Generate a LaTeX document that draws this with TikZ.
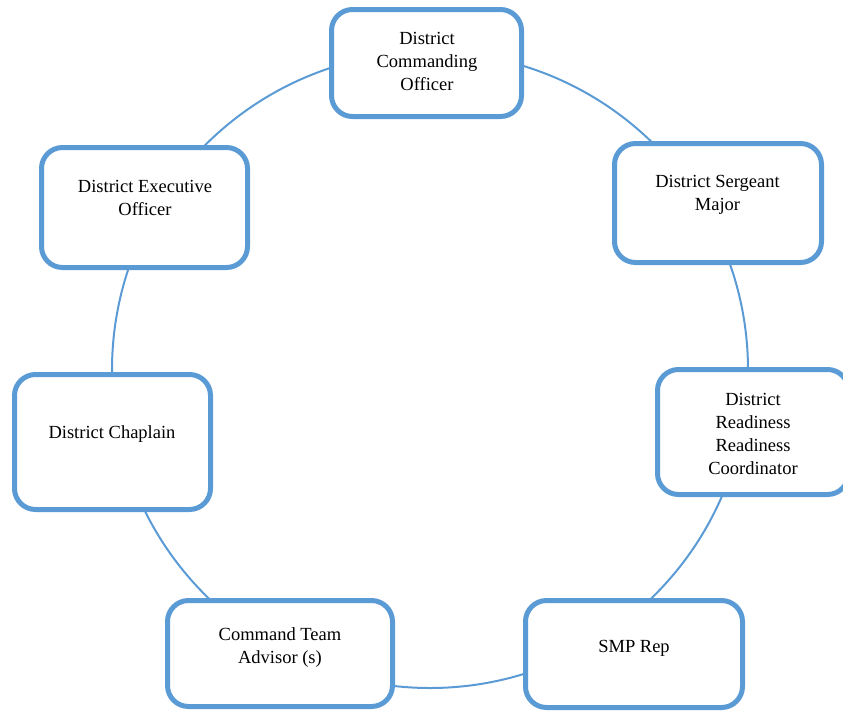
\documentclass[tikz,border=0pt]{standalone}
\usepackage{fontspec}
\setmainfont{Liberation Serif}
\usepackage{tikz}
\definecolor{ringblue}{HTML}{5B9BD5}

\tikzset{
  ring/.style={circle, draw=ringblue, line width=2pt, inner sep=0pt},
  post/.style={draw=ringblue, line width=5pt, fill=white, rounded corners=21pt, inner sep=0pt},
  posttext/.style={align=center, anchor=base, inner sep=0pt, font=\fontsize{18.5}{23}\selectfont}
}

\begin{document}
\begin{tikzpicture}[x=1pt,y=-1pt]
\useasboundingbox (0,0) rectangle (843,713);
\node[ring, minimum size=636pt] (ring) at (430,370) {};
% the seven posts round the ring
\node[post, minimum width=190pt, minimum height=107pt] (dco) at (426.5,63) {};
\node[post, minimum width=207pt, minimum height=119pt] (dsm) at (718,203) {};
\node[post, minimum width=191pt, minimum height=125pt] (drc) at (753,432) {};
\node[post, minimum width=217pt, minimum height=107pt] (smp) at (634,654) {};
\node[post, minimum width=225pt, minimum height=106pt] (cta) at (280,653.5) {};
\node[post, minimum width=196pt, minimum height=135pt] (dch) at (112.5,442) {};
\node[post, minimum width=206pt, minimum height=120pt] (dxo) at (144.5,207.5) {};
% their titles (base = last line)
\node[posttext] (dco-t) at (427,90) {District\\Commanding\\Officer};
\node[posttext] (dsm-t) at (717.5,210) {District Sergeant\\Major};
\node[posttext] (drc-t) at (753,474) {District\\Readiness\\Readiness\\Coordinator};
\node[posttext] (smp-t) at (634,652) {SMP Rep};
\node[posttext] (cta-t) at (280,663) {Command Team\\Advisor (s)};
\node[posttext] (dch-t) at (112,438) {District Chaplain};
\node[posttext] (dxo-t) at (145,215) {District Executive\\Officer};
\end{tikzpicture}
\end{document}
